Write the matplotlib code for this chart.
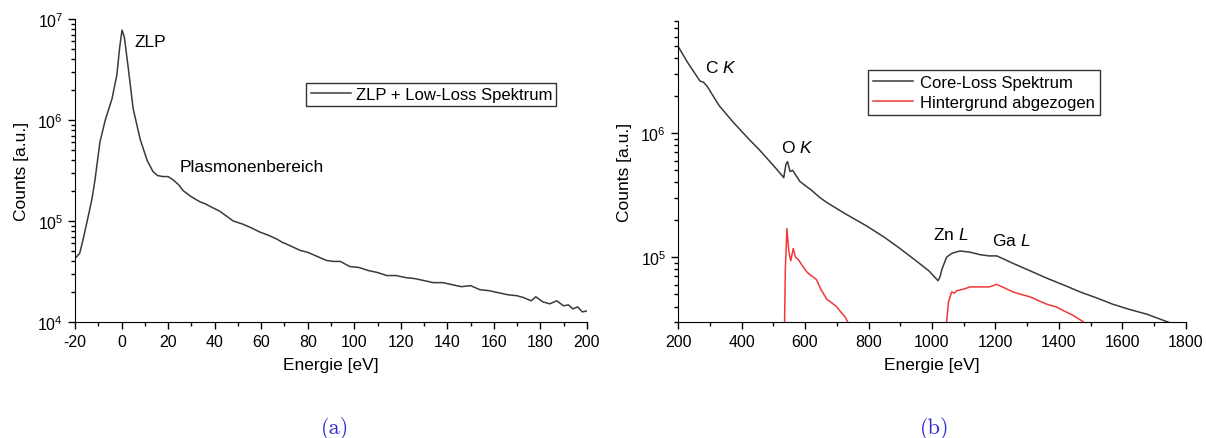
import numpy as np
import matplotlib
matplotlib.use("Agg")
import matplotlib.pyplot as plt
from matplotlib.ticker import LogLocator, MultipleLocator, NullFormatter

plt.rcParams['font.family'] = ['Liberation Sans', 'DejaVu Sans']
plt.rcParams['mathtext.fontset'] = 'custom'
plt.rcParams['mathtext.rm'] = 'Liberation Sans'
plt.rcParams['mathtext.it'] = 'Liberation Sans:italic'
plt.rcParams['axes.unicode_minus'] = False

# (a) ZLP + low loss, energy [eV] and log10(counts)
e_low = [-20, -18, -16.5, -14, -12.7, -11.4, -9.3, -7, -4.1, -2, -0.8, 0.2, 1.2, 2.8,
         5, 8, 11, 13.5, 15.5, 17.8, 20, 22, 24.5, 26.5, 30, 33.7, 36, 39.3, 42,
         45, 48, 52, 56, 59.5, 63, 66.8, 69, 72, 76.7, 80, 84, 88, 91, 94, 98,
         102, 106, 110, 114, 118, 122, 126, 130, 134, 138, 142, 146, 150, 154,
         158, 162, 166, 170, 173, 176, 178, 181, 184, 187, 190, 192, 194, 196, 198, 200]
log_low = [4.63, 4.68, 4.82, 5.08, 5.22, 5.41, 5.78, 6.0, 6.21, 6.45, 6.72, 6.89, 6.82, 6.53,
           6.11, 5.81, 5.6, 5.49, 5.45, 5.44, 5.44, 5.41, 5.36, 5.3, 5.24, 5.19, 5.17, 5.13, 5.1,
           5.05, 5.0, 4.97, 4.93, 4.89, 4.86, 4.82, 4.79, 4.76, 4.71, 4.69, 4.65, 4.61, 4.6, 4.6, 4.55,
           4.54, 4.51, 4.49, 4.46, 4.46, 4.44, 4.43, 4.41, 4.39, 4.39, 4.37, 4.35, 4.36, 4.32,
           4.31, 4.29, 4.27, 4.26, 4.24, 4.21, 4.25, 4.2, 4.18, 4.21, 4.16, 4.17, 4.13, 4.15, 4.1, 4.11]

# (b) core loss spectrum
e_core = [200, 230, 269, 280, 291, 330, 373, 420, 458, 500, 527, 533, 540, 545, 553, 561,
          584, 620, 647, 669, 720, 795, 850, 899, 950, 990, 1019, 1025, 1031, 1046, 1062,
          1088, 1120, 1151, 1180, 1204, 1230, 1255, 1300, 1362, 1420, 1466, 1520, 1570,
          1620, 1677, 1740, 1750]
log_core = [6.70, 6.57, 6.42, 6.41, 6.38, 6.22, 6.09, 5.96, 5.86, 5.74, 5.66, 5.64, 5.75, 5.77,
            5.69, 5.70, 5.61, 5.54, 5.48, 5.44, 5.36, 5.25, 5.16, 5.07, 4.97, 4.89, 4.81, 4.84,
            4.90, 5.00, 5.03, 5.05, 5.04, 5.02, 5.01, 5.01, 4.98, 4.95, 4.90, 4.83, 4.77, 4.72,
            4.67, 4.62, 4.58, 4.54, 4.48, 4.47]

# background subtracted (O K and Zn/Ga L parts)
e_bg1 = [533, 538, 543, 549, 555, 563, 570, 579, 592, 606, 620, 636, 650, 669, 685, 700,
         712, 726, 736, 742]
log_bg1 = [4.0, 4.9, 5.23, 5.05, 4.97, 5.07, 5.0, 4.98, 4.93, 4.88, 4.85, 4.82, 4.74, 4.66,
           4.63, 4.60, 4.56, 4.52, 4.47, 4.3]
e_bg2 = [1040, 1046, 1052, 1062, 1070, 1078, 1097, 1120, 1151, 1180, 1204, 1230, 1255,
         1280, 1309, 1335, 1362, 1390, 1413, 1445, 1476, 1490]
log_bg2 = [4.2, 4.48, 4.64, 4.72, 4.71, 4.73, 4.74, 4.76, 4.76, 4.76, 4.78, 4.75, 4.72,
           4.70, 4.68, 4.65, 4.62, 4.60, 4.57, 4.53, 4.48, 4.4]

dark = '#3a3a3a'
red = '#f03838'

fig = plt.figure(figsize=(12.06, 4.39), dpi=100)
ax1 = fig.add_axes([0.0622, 0.2642, 0.4245, 0.6902])
ax2 = fig.add_axes([0.5622, 0.2642, 0.4212, 0.6856])

ax1.plot(e_low, 10 ** np.array(log_low), color=dark, lw=1.1, label='ZLP + Low-Loss Spektrum')
ax2.plot(e_core, 10 ** np.array(log_core), color=dark, lw=1.1, label='Core-Loss Spektrum')
ax2.plot(e_bg1, 10 ** np.array(log_bg1), color=red, lw=1.1, label='Hintergrund abgezogen')
ax2.plot(e_bg2, 10 ** np.array(log_bg2), color=red, lw=1.1)

ax1.set_xlim(-20, 200)
ax1.set_ylim(1e4, 1e7)
ax2.set_xlim(200, 1800)
ax2.set_ylim(3e4, 8e6)

for ax, step in [(ax1, 20), (ax2, 200)]:
    ax.set_yscale('log')
    ax.xaxis.set_major_locator(MultipleLocator(step))
    ax.xaxis.set_minor_locator(MultipleLocator(step / 2))
    ax.yaxis.set_minor_locator(LogLocator(base=10, subs=np.arange(2, 10)))
    ax.yaxis.set_minor_formatter(NullFormatter())
    ax.spines['top'].set_visible(False)
    ax.spines['right'].set_visible(False)
    ax.tick_params(which='major', direction='out', length=5, width=1, labelsize=11.5)
    ax.tick_params(which='minor', direction='out', length=3, width=1)
    ax.set_xlabel('Energie [eV]', fontsize=12.5, labelpad=6)
    ax.set_ylabel('Counts [a.u.]', fontsize=12.5, labelpad=6)

leg1 = ax1.legend(loc='upper left', bbox_to_anchor=(0.452, 0.79), fontsize=12, frameon=True,
                  fancybox=False, edgecolor='black', handlelength=2.4, borderpad=0.25,
                  handletextpad=0.3, borderaxespad=0)
leg1.get_frame().set_linewidth(1)
leg2 = ax2.legend(loc='upper left', bbox_to_anchor=(0.374, 0.837), fontsize=12, frameon=True,
                  fancybox=False, edgecolor='black', handlelength=2.4, borderpad=0.3,
                  handletextpad=0.4, labelspacing=0.3, borderaxespad=0)
leg2.get_frame().set_linewidth(1)

ax1.text(5.4, 10 ** 6.78, 'ZLP', fontsize=12.5, va='center', ha='left')
ax1.text(25.1, 10 ** 5.54, 'Plasmonenbereich', fontsize=12.5, va='center', ha='left')
ax2.text(285, 10 ** 6.53, 'C $K$', fontsize=12.5, va='center', ha='left')
ax2.text(524, 10 ** 5.89, 'O $K$', fontsize=12.5, va='center', ha='left')
ax2.text(1003, 10 ** 5.19, 'Zn $L$', fontsize=12.5, va='center', ha='left')
ax2.text(1189, 10 ** 5.14, 'Ga $L$', fontsize=12.5, va='center', ha='left')

fig.text(335 / 1206, 1 - 429 / 439, '(a)', family='cmr10', fontsize=16, color='#2a2ad0',
         ha='center', va='center')
fig.text(935 / 1206, 1 - 429 / 439, '(b)', family='cmr10', fontsize=16, color='#2a2ad0',
         ha='center', va='center')

fig.savefig('out.png', dpi=100)
